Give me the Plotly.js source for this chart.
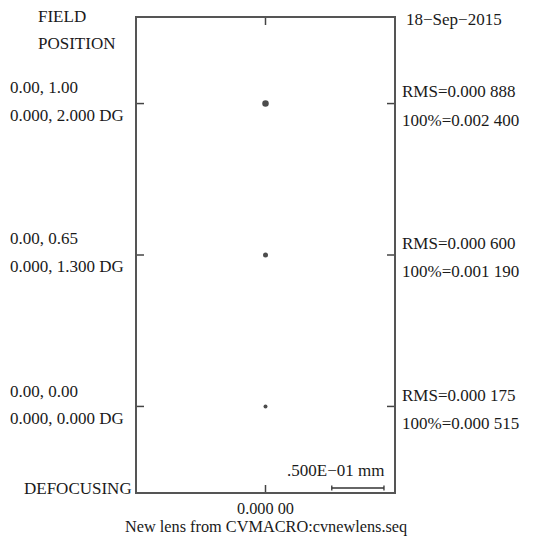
<!DOCTYPE html>
<html>
<head>
<meta charset="utf-8">
<script src="https://cdn.plot.ly/plotly-3.0.1.min.js"></script>
<style>html,body{margin:0;padding:0;background:#fff;}#plot{width:533px;height:538px;}</style>
</head>
<body>
<div id="plot"></div>
<script>
// ---- data ----
const fieldRows = [3, 2, 1];
const spotX = [0, 0, 0];
const fieldRel = ["0.00, 1.00", "0.00, 0.65", "0.00, 0.00"];
const fieldDeg = ["0.000, 2.000 DG", "0.000, 1.300 DG", "0.000, 0.000 DG"];
const rmsLabels = ["RMS=0.000 888", "RMS=0.000 600", "RMS=0.000 175"];
const fullLabels = ["100%=0.002 400", "100%=0.001 190", "100%=0.000 515"];
const xTickVals = [0];
const xTickText = ["0.000 00"];
const scaleBarLength = 0.05; // mm
const scaleBarLabel = ".500E\u221201 mm";
const dateLabel = "18\u2212Sep\u22122015";
const footer = "New lens from CVMACRO:cvnewlens.seq";

// ---- layout helpers ----
const L = 136.5, R = 394, T = 18, B = 492;
const W = R - L, H = B - T;
const px = x => (x - L) / W;
const py = y => (B - y) / H;
const FONT = {family: "Liberation Serif, DejaVu Serif, serif", size: 17, color: "#1a1a1a"};
const SMALL = {family: FONT.family, size: 16.3, color: "#1a1a1a"};
const xHalf = 0.1231;
const scaleStart = 0.0635;

const annotations = [];
function addText(text, x, y, anchor, font) {
  annotations.push({text: text, xref: "paper", yref: "paper", x: px(x), y: py(y),
    xanchor: anchor || "left", yanchor: "middle", showarrow: false, font: font || FONT});
}
addText("FIELD", 35, 16);
addText("POSITION", 35, 43);
addText(dateLabel, 404, 20);
addText("DEFOCUSING", 133, 488, "right");
const tickPx = [103, 254, 406];
for (let i = 0; i < fieldRows.length; i++) {
  addText(fieldRel[i], 7, tickPx[i] - 15);
  addText(fieldDeg[i], 7, tickPx[i] + 12);
  addText(rmsLabels[i], 400, tickPx[i] - 11);
  addText(fullLabels[i], 400, tickPx[i] + 17);
}
addText(footer, 265.5, 526, "center", SMALL);
addText(scaleBarLabel, 386, 470, "right");

const lineStyle = {color: "#333", width: 1.3};
const tickStyle = {color: "#444", width: 1.5};
const shapes = [
  {type: "line", xref: "x", yref: "paper", x0: scaleStart, x1: scaleStart + scaleBarLength, y0: py(488), y1: py(488), line: lineStyle},
  {type: "line", xref: "x", yref: "paper", x0: scaleStart, x1: scaleStart, y0: py(485.5), y1: py(490.5), line: lineStyle},
  {type: "line", xref: "x", yref: "paper", x0: scaleStart + scaleBarLength, x1: scaleStart + scaleBarLength, y0: py(485.5), y1: py(490.5), line: lineStyle}
];
// inward ticks on all four sides, placed through the axes
fieldRows.forEach(v => {
  shapes.push({type: "line", xref: "paper", yref: "y", x0: 0, x1: px(L + 7), y0: v, y1: v, line: tickStyle});
  shapes.push({type: "line", xref: "paper", yref: "y", x0: 1, x1: px(R - 7), y0: v, y1: v, line: tickStyle});
});
xTickVals.forEach(v => {
  shapes.push({type: "line", xref: "x", yref: "paper", x0: v, x1: v, y0: 0, y1: py(B - 7), line: tickStyle});
  shapes.push({type: "line", xref: "x", yref: "paper", x0: v, x1: v, y0: 1, y1: py(T + 7), line: tickStyle});
});

const trace = {
  x: spotX, y: fieldRows, type: "scatter", mode: "markers",
  marker: {color: "#000", size: [6.5, 5, 4], symbol: "circle", line: {width: 0}},
  hoverinfo: "skip"
};

const layout = {
  width: 533, height: 538,
  margin: {l: L, r: 533 - R, t: T, b: 538 - B, pad: 0},
  paper_bgcolor: "#fff", plot_bgcolor: "#fff",
  showlegend: false,
  font: FONT,
  xaxis: {range: [-xHalf, xHalf], showgrid: false, zeroline: false,
    showline: true, linecolor: "#555", linewidth: 2, mirror: true,
    ticks: "", tickmode: "array", tickvals: xTickVals, ticktext: xTickText,
    ticklabelstandoff: 0, tickfont: SMALL, fixedrange: true},
  yaxis: {range: [0.435, 3.565], showgrid: false, zeroline: false,
    showline: true, linecolor: "#555", linewidth: 2, mirror: true,
    ticks: "", tickmode: "array", tickvals: fieldRows, showticklabels: false, fixedrange: true},
  annotations: annotations,
  shapes: shapes
};

Plotly.newPlot("plot", [trace], layout, {staticPlot: true, displayModeBar: false});
</script>
</body>
</html>
